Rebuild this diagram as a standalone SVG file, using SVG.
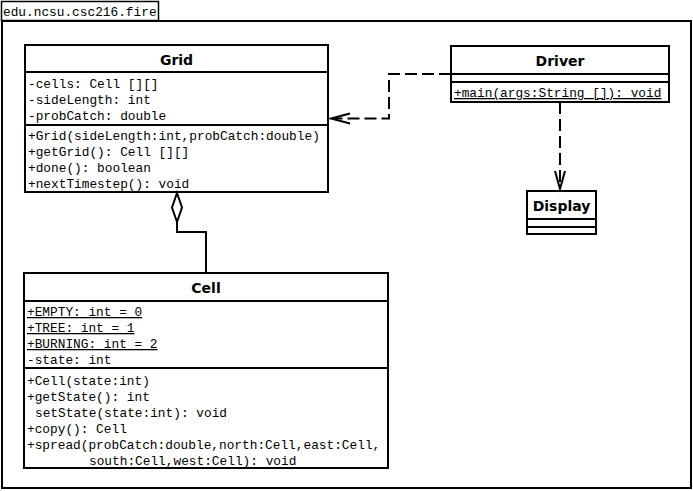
<svg xmlns="http://www.w3.org/2000/svg" width="693" height="491" viewBox="0 0 693 491">
  <style>
    .box { fill: #ffffff; stroke: #000000; stroke-width: 2; }
    .line { fill: none; stroke: #000000; stroke-width: 2; }
    .name { font-family: "DejaVu Sans", "Liberation Sans", sans-serif; font-weight: bold; font-size: 14px; text-anchor: middle; fill: #000; }
    .mem { font-family: "Liberation Mono", "Courier New", monospace; font-size: 12.8px; fill: #000; }
    .static { text-decoration: underline; }
    .dep { fill: none; stroke: #000; stroke-width: 2; stroke-dasharray: 12 5; }
    .head { fill: none; stroke: #000; stroke-width: 2; stroke-linejoin: miter; }
  </style>

  <!-- package frame -->
  <g id="package">
    <rect x="1.5" y="1.5" width="157" height="19" fill="#fff" stroke="#000" stroke-width="1.5"/>
    <rect class="box" x="2" y="21" width="689" height="467"/>
    <text class="mem" x="3" y="16">edu.ncsu.csc216.fire</text>
  </g>

  <!-- Grid class -->
  <g id="grid">
    <rect class="box" x="25" y="45" width="303" height="147"/>
    <line class="line" x1="25" y1="72" x2="328" y2="72"/>
    <line class="line" x1="25" y1="125" x2="328" y2="125"/>
    <text class="name" x="176.5" y="65">Grid</text>
    <text class="mem" x="28" y="88">-cells: Cell [][]</text>
    <text class="mem" x="28" y="104">-sideLength: int</text>
    <text class="mem" x="28" y="120">-probCatch: double</text>
    <text class="mem" x="28" y="140">+Grid(sideLength:int,probCatch:double)</text>
    <text class="mem" x="28" y="156">+getGrid(): Cell [][]</text>
    <text class="mem" x="28" y="172">+done(): boolean</text>
    <text class="mem" x="28" y="188">+nextTimestep(): void</text>
  </g>

  <!-- Driver class -->
  <g id="driver">
    <rect class="box" x="451" y="46" width="218" height="56"/>
    <line class="line" x1="451" y1="74" x2="669" y2="74"/>
    <line class="line" x1="451" y1="82" x2="669" y2="82"/>
    <text class="name" x="560" y="66">Driver</text>
    <text class="mem static" x="454" y="97">+main(args:String []): void</text>
  </g>

  <!-- Display class -->
  <g id="display">
    <rect class="box" x="527" y="191" width="69" height="43"/>
    <line class="line" x1="527" y1="219" x2="596" y2="219"/>
    <line class="line" x1="527" y1="227" x2="596" y2="227"/>
    <text class="name" x="561.5" y="211">Display</text>
  </g>

  <!-- Cell class -->
  <g id="cell">
    <rect class="box" x="24" y="273" width="364" height="195"/>
    <line class="line" x1="24" y1="301" x2="388" y2="301"/>
    <line class="line" x1="24" y1="368" x2="388" y2="368"/>
    <text class="name" x="206" y="293">Cell</text>
    <text class="mem static" x="27" y="316">+EMPTY: int = 0</text>
    <text class="mem static" x="27" y="332">+TREE: int = 1</text>
    <text class="mem static" x="27" y="348">+BURNING: int = 2</text>
    <text class="mem" x="27" y="364">-state: int</text>
    <text class="mem" x="27" y="385">+Cell(state:int)</text>
    <text class="mem" x="27" y="401">+getState(): int</text>
    <text class="mem" x="35" y="417">setState(state:int): void</text>
    <text class="mem" x="27" y="433">+copy(): Cell</text>
    <text class="mem" x="27" y="449">+spread(probCatch:double,north:Cell,east:Cell,</text>
    <text class="mem" x="89" y="465">south:Cell,west:Cell): void</text>
  </g>

  <!-- connectors -->
  <g id="connectors">
    <!-- Grid aggregates Cell -->
    <polygon points="177,193 182,207.5 177,222 172,207.5" fill="#fff" stroke="#000" stroke-width="2"/>
    <polyline class="line" points="177,222 177,232 206,232 206,273"/>
    <!-- Driver depends on Grid -->
    <polyline class="dep" points="451,74 389,74 389,118.5 332,118.5"/>
    <polyline class="head" points="350,113.5 331,118.5 350,123.5"/>
    <!-- Driver depends on Display -->
    <polyline class="dep" points="560,102 560,188"/>
    <polyline class="head" points="555,171 560,189 565,171"/>
  </g>
</svg>
